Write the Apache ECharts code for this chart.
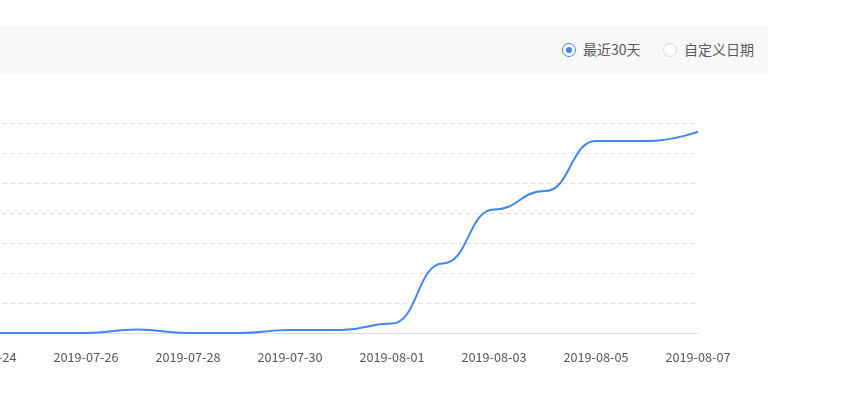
<!DOCTYPE html>
<html>
<head>
    <meta charset="utf-8">
    <title>ECharts</title>
    <style>
        html, body { margin: 0; padding: 0; background: #fff; overflow: hidden; }
        body { width: 860px; height: 417px; position: relative; font-family: "Noto Sans CJK SC", "Noto Sans", sans-serif; }
        .bar { position: absolute; left: 0; top: 26px; width: 768px; height: 47px; background: #f8f8f8; }
        .radio { position: absolute; top: 0; height: 47px; line-height: 47px; font-size: 14px; color: #5a5a5a; }
        .radio i { position: absolute; left: 0; top: 17px; width: 12px; height: 12px; border: 1px solid #dcdcdc; border-radius: 50%; background: #fff; }
        .radio.on i { border-color: #3f86f5; }
        .radio.on i:after { content: ""; position: absolute; left: 3px; top: 3px; width: 6px; height: 6px; border-radius: 50%; background: #3f86f5; }
        .radio span { padding-left: 21px; }
        #main { position: absolute; left: -860px; top: 80px; width: 1720px; height: 300px; }
    </style>
</head>
<body>
    <div class="bar">
        <div class="radio on" style="left:562px"><i></i><span>最近30天</span></div>
        <div class="radio" style="left:663px"><i></i><span>自定义日期</span></div>
    </div>
    <div id="main"></div>
    <script src="https://cdn.jsdelivr.net/npm/echarts@6/dist/echarts.min.js"></script>
    <script type="text/javascript">
        // 最近30天
        var dates = [
            '2019-07-09', '2019-07-10', '2019-07-11', '2019-07-12', '2019-07-13',
            '2019-07-14', '2019-07-15', '2019-07-16', '2019-07-17', '2019-07-18',
            '2019-07-19', '2019-07-20', '2019-07-21', '2019-07-22', '2019-07-23',
            '2019-07-24', '2019-07-25', '2019-07-26', '2019-07-27', '2019-07-28',
            '2019-07-29', '2019-07-30', '2019-07-31', '2019-08-01', '2019-08-02',
            '2019-08-03', '2019-08-04', '2019-08-05', '2019-08-06', '2019-08-07'
        ];
        var values = [
            0, 0, 0, 0, 0,
            0, 0, 0, 0, 0,
            0, 0, 0, 0, 0,
            0, 0, 0, 1.2, 0,
            0, 1, 1, 3.2, 23.2,
            41.2, 47.3, 64, 64, 67.1
        ];
        var yMax = 70;
        var yInterval = 10;

        var myChart = echarts.init(document.getElementById('main'));

        var option = {
            animation: false,
            grid: {
                left: 79,
                right: 162,
                top: 43,
                bottom: 47
            },
            xAxis: {
                type: 'category',
                boundaryGap: false,
                data: dates,
                axisTick: { show: false },
                axisLine: { lineStyle: { color: '#dcdcdc', width: 1 } },
                axisLabel: {
                    // 显示 07-24, 07-26 ... 08-07
                    interval: function (index) {
                        return index % 2 === 1;
                    },
                    color: '#555',
                    fontSize: 12.7,
                    margin: 18,
                    fontFamily: 'Noto Sans CJK SC'
                }
            },
            yAxis: {
                type: 'value',
                min: 0,
                max: yMax,
                interval: yInterval,
                axisLine: { show: false },
                axisTick: { show: false },
                axisLabel: { color: '#555' },
                splitLine: {
                    lineStyle: { color: '#dcdcdc', type: [4, 4] }
                }
            },
            series: [{
                name: '数量',
                type: 'line',
                smooth: true,
                smoothMonotone: 'x',
                symbol: 'none',
                data: values,
                lineStyle: { color: '#3f86f5', width: 2 }
            }]
        };

        myChart.setOption(option);
    </script>
</body>
</html>
